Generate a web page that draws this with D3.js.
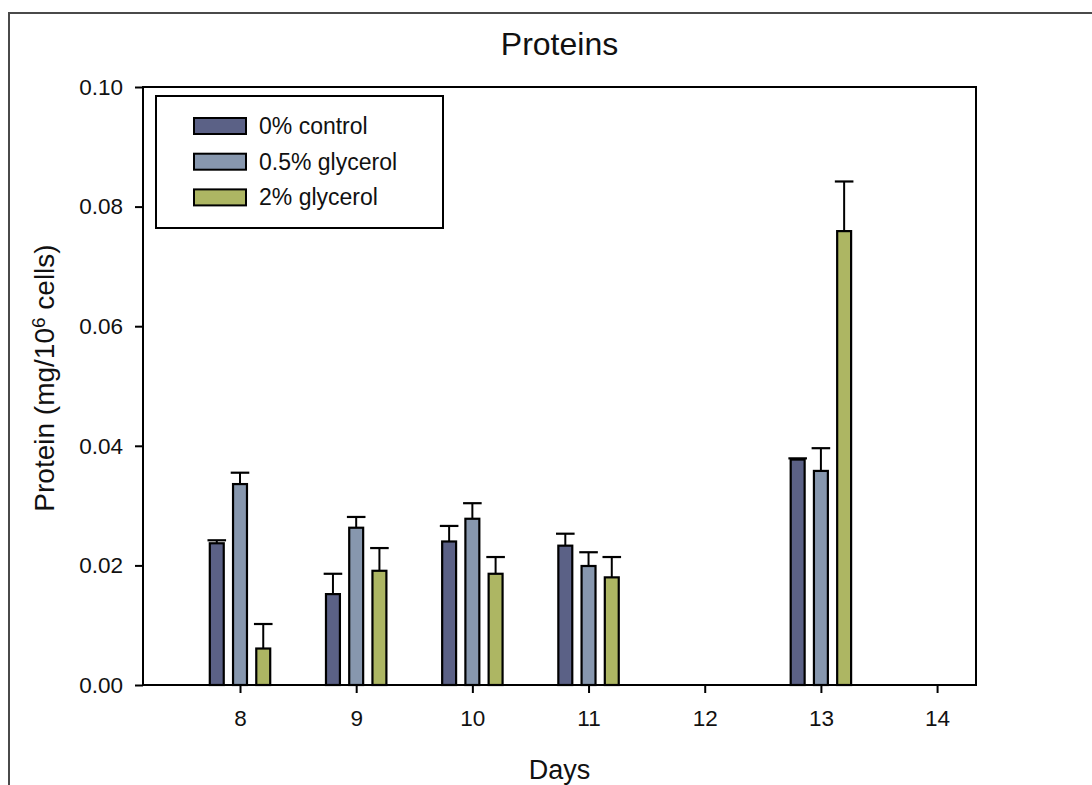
<!DOCTYPE html>
<html>
<head>
<meta charset="utf-8">
<script src="https://cdn.jsdelivr.net/npm/d3@7"></script>
<style>
  body { margin: 0; background: #fff; }
  svg { display: block; font-family: "Liberation Sans", Arial, sans-serif; }
</style>
</head>
<body>
<svg id="chart" width="1092" height="785"></svg>
<script>
// days measured, and protein per series (mg / 10^6 cells) with upper error
const days = [8, 9, 10, 11, 13];
const dayTicks = [8, 9, 10, 11, 12, 13, 14];
const proteinTicks = [0, 0.02, 0.04, 0.06, 0.08, 0.10];

const seriesNames = ["0% control", "0.5% glycerol", "2% glycerol"];
const seriesColors = ["#5b6186", "#8797ae", "#adb663"];

const control = [0.0237, 0.0152, 0.0240, 0.0233, 0.0377];
const controlErr = [0.0005, 0.0034, 0.0026, 0.0020, 0.0002];
const glycerol05 = [0.0336, 0.0263, 0.0278, 0.0199, 0.0358];
const glycerol05Err = [0.0019, 0.0018, 0.0026, 0.0023, 0.0038];
const glycerol2 = [0.0061, 0.0191, 0.0186, 0.0180, 0.0759];
const glycerol2Err = [0.0041, 0.0038, 0.0028, 0.0034, 0.0083];

const seriesValues = [control, glycerol05, glycerol2];
const seriesErrors = [controlErr, glycerol05Err, glycerol2Err];

const svg = d3.select("#chart");
const plotLeft = 143, plotRight = 976, plotTop = 87, plotBottom = 685;

const x = d3.scaleLinear().domain([7.165, 14.335]).range([plotLeft, plotRight]);
const y = d3.scaleLinear().domain([0, 0.1]).range([plotBottom, plotTop]);

const offset = 0.2;      // day offset between bars in a group
const barWidth = 0.12;   // in days

// outer frame of the figure
svg.append("rect")
    .attr("x", 9).attr("y", 13)
    .attr("width", 1200).attr("height", 900)
    .attr("fill", "none")
    .attr("stroke", "#4a4a4a")
    .attr("stroke-width", 2);

// bars and error bars
const rows = [];
seriesValues.forEach((vals, s) => {
    vals.forEach((v, i) => {
        rows.push({ s: s, day: days[i], value: v, err: seriesErrors[s][i] });
    });
});

const g = svg.append("g");

g.selectAll("line.err")
    .data(rows)
    .enter()
    .append("line")
    .attr("class", "err")
    .attr("x1", d => x(d.day + (d.s - 1) * offset))
    .attr("x2", d => x(d.day + (d.s - 1) * offset))
    .attr("y1", d => y(d.value))
    .attr("y2", d => y(d.value + d.err))
    .attr("stroke", "#000")
    .attr("stroke-width", 2);

g.selectAll("line.cap")
    .data(rows)
    .enter()
    .append("line")
    .attr("class", "cap")
    .attr("x1", d => x(d.day + (d.s - 1) * offset - 0.08))
    .attr("x2", d => x(d.day + (d.s - 1) * offset + 0.08))
    .attr("y1", d => y(d.value + d.err))
    .attr("y2", d => y(d.value + d.err))
    .attr("stroke", "#000")
    .attr("stroke-width", 2.2);

g.selectAll("rect.bar")
    .data(rows)
    .enter()
    .append("rect")
    .attr("class", "bar")
    .attr("x", d => x(d.day + (d.s - 1) * offset - barWidth / 2))
    .attr("width", d => x(barWidth) - x(0))
    .attr("y", d => y(d.value))
    .attr("height", d => y(0) - y(d.value))
    .attr("fill", d => seriesColors[d.s])
    .attr("stroke", "#000")
    .attr("stroke-width", 2.2);

// plot frame
svg.append("rect")
    .attr("x", plotLeft).attr("y", plotTop)
    .attr("width", plotRight - plotLeft).attr("height", plotBottom - plotTop)
    .attr("fill", "none")
    .attr("stroke", "#000")
    .attr("stroke-width", 2);

// axes
const xAxis = svg.append("g")
    .attr("transform", `translate(0,${plotBottom})`)
    .call(d3.axisBottom(x).tickValues(dayTicks).tickSize(8).tickSizeOuter(0).tickPadding(17));

const yAxis = svg.append("g")
    .attr("transform", `translate(${plotLeft},0)`)
    .call(d3.axisLeft(y).tickValues(proteinTicks).tickFormat(d3.format(".2f")).tickSize(8).tickSizeOuter(0).tickPadding(12));

[xAxis, yAxis].forEach(a => {
    a.select(".domain").remove();
    a.selectAll(".tick line").attr("stroke", "#000").attr("stroke-width", 2);
    a.selectAll(".tick text")
        .attr("fill", "#111")
        .style("font-size", "22.5px")
        .style("font-family", '"Liberation Sans", Arial, sans-serif');
});

// title and axis labels
svg.append("text")
    .attr("x", (plotLeft + plotRight) / 2)
    .attr("y", 55)
    .attr("text-anchor", "middle")
    .style("font-size", "32px")
    .attr("fill", "#111")
    .text("Proteins");

svg.append("text")
    .attr("x", (plotLeft + plotRight) / 2)
    .attr("y", 779)
    .attr("text-anchor", "middle")
    .style("font-size", "27px")
    .attr("fill", "#111")
    .text("Days");

const yLabel = svg.append("text")
    .attr("transform", "translate(54,378) rotate(-90)")
    .attr("text-anchor", "middle")
    .style("font-size", "28px")
    .attr("fill", "#111");
yLabel.append("tspan").text("Protein (mg/10");
yLabel.append("tspan").attr("dy", "-0.5em").style("font-size", "19px").text("6");
yLabel.append("tspan").attr("dy", "0.33em").text(" cells)");

// legend
const legend = svg.append("g");
legend.append("rect")
    .attr("x", 156).attr("y", 96)
    .attr("width", 287).attr("height", 132)
    .attr("fill", "#fff")
    .attr("stroke", "#000")
    .attr("stroke-width", 2);

const item = legend.selectAll("g.item")
    .data(seriesNames)
    .enter()
    .append("g")
    .attr("class", "item")
    .attr("transform", (d, i) => `translate(0,${i * 35.7})`);

item.append("rect")
    .attr("x", 194).attr("y", 118)
    .attr("width", 52).attr("height", 16)
    .attr("fill", (d, i) => seriesColors[i])
    .attr("stroke", "#000")
    .attr("stroke-width", 2);

item.append("text")
    .attr("x", 259).attr("y", 134)
    .style("font-size", "23px")
    .attr("fill", "#111")
    .text(d => d);
</script>
</body>
</html>
